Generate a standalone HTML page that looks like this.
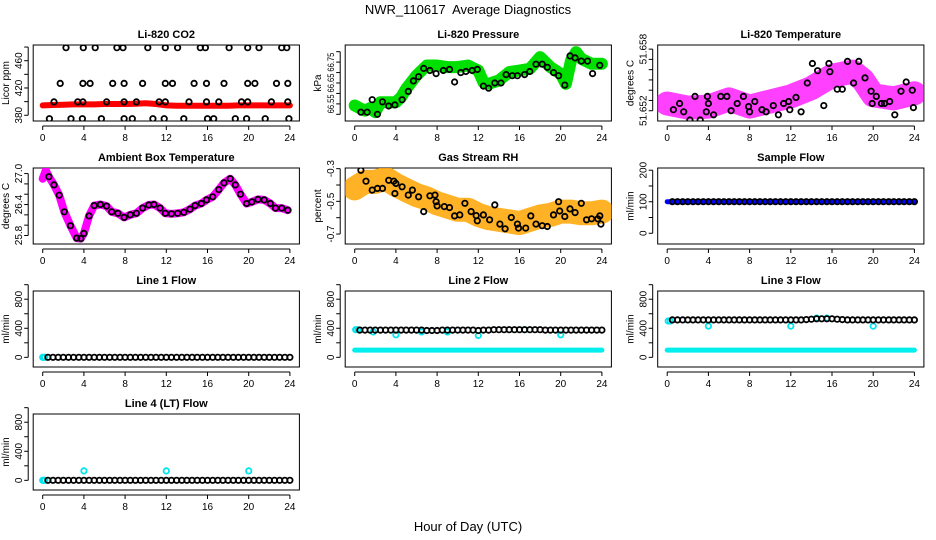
<!DOCTYPE html>
<html><head><meta charset="utf-8">
<style>
html,body{margin:0;padding:0;background:#fff;}
svg{display:block;font-family:"Liberation Sans",sans-serif;}
</style></head>
<body>
<svg id="chart" width="936" height="540" viewBox="0 0 936 540" xmlns="http://www.w3.org/2000/svg">
<text x="468" y="14" font-size="13" text-anchor="middle" style="white-space:pre">NWR_110617  Average Diagnostics</text>
<text x="468" y="531" font-size="13" text-anchor="middle">Hour of Day (UTC)</text>
</svg>
<script>
// ---------- data ----------
const xTicks = [0,4,8,12,16,20,24];

// CO2
const co2BandHours = [0,1,2,3,4,5,6,7,8,9,10,11,12,13,14,15,16,17,18,19,20,21,22,23,24];
const co2BandVals = [394.5,395,395.5,396,396,396,396.5,396.5,396.5,397,397.5,396.5,394.5,394,394,394,394,394,394,394.5,394.5,394.5,394.5,394.5,394.5];
const co2PtHours = [2.26,3.94,5.1,7.2,7.8,10.2,11.9,13.1,15.3,15.8,18.1,19.9,21.0,23.2,23.7,
  1.7,3.9,4.6,6.8,7.9,9.7,11.9,12.6,14.7,15.9,17.6,19.9,20.6,22.7,23.8,
  1.1,3.4,3.9,6.2,7.9,9.1,11.3,11.9,14.2,15.9,17.1,19.3,19.9,22.2,23.8,
  0.65,2.75,3.85,5.7,7.9,8.7,10.7,11.8,13.7,16.0,16.6,18.7,19.8,21.6,23.9];
const co2PtVals = [479,479,479,479,479,479,479,479,479,479,479,479,479,479,479,
  426.7,426.7,426.7,426.7,426.7,426.7,426.7,426.7,426.7,426.7,426.7,426.7,426.7,426.7,426.7,
  399.6,399.6,399.6,399.6,399.6,399.6,399.6,399.6,399.6,399.6,399.6,399.6,399.6,399.6,399.6,
  375,375,375,375,375,375,375,375,375,375,375,375,375,375,375];

// Pressure
const presHours = [0,0.5,1,1.5,2,2.5,3,4,4.5,5,6,7,8,9,10,11,12,12.5,13,14,15,16,17,18,19,20,20.5,21,21.5,22,23,24];
const presVals = [66.542,66.53,66.518,66.53,66.51,66.558,66.558,66.558,66.582,66.622,66.686,66.734,66.734,66.726,66.726,66.734,66.71,66.654,66.646,66.662,66.702,66.71,66.718,66.774,66.726,66.694,66.646,66.758,66.798,66.766,66.742,66.742];
const presPtHours = [0.6,1.2,1.7,2.2,2.7,3.3,3.9,4.6,5.2,5.7,6.2,6.7,7.3,7.9,8.6,9.2,9.7,10.3,10.8,11.4,11.9,12.5,13.0,13.6,14.2,14.7,15.3,15.8,16.5,17.0,17.6,18.2,18.7,19.3,19.8,20.4,20.9,21.4,22.0,22.6,23.1,23.8];
const presPtVals = [66.51,66.51,66.57,66.5,66.56,66.54,66.545,66.57,66.61,66.66,66.68,66.72,66.71,66.695,66.71,66.715,66.655,66.7,66.705,66.71,66.715,66.635,66.625,66.65,66.65,66.69,66.685,66.685,66.69,66.705,66.74,66.74,66.725,66.7,66.685,66.64,66.78,66.77,66.755,66.755,66.695,66.735];

// Li-820 Temperature
const tempBandHours = [0,2,4,6,8,10,12,14,16,18,19,20,22,24];
const tempBandVals = [51.6527,51.6523,51.6524,51.6531,51.6524,51.6529,51.6534,51.6542,51.6554,51.6558,51.655,51.6535,51.6532,51.6537];
const tempPtHours = [0.6,1.2,1.6,2.2,2.7,3.2,3.8,3.9,4,4.5,5.2,5.8,6.2,6.8,7.4,7.9,8,8.5,9.2,9.6,10.3,10.8,11.3,11.8,11.9,12.5,13,13.6,14.1,14.6,15.2,15.7,15.8,16.5,17,17.5,18.1,18.6,19.2,19.8,19.9,20.3,20.8,21.1,21.6,22.1,22.7,23.2,23.8,23.9];
const tempPtVals = [51.6521,51.6527,51.6519,51.6511,51.6534,51.6511,51.6519,51.6534,51.6527,51.6516,51.6534,51.6534,51.652,51.6527,51.6534,51.6524,51.6519,51.6529,51.6521,51.6519,51.6525,51.6516,51.6527,51.6529,51.6521,51.6533,51.6519,51.6547,51.6566,51.6559,51.6525,51.6566,51.6558,51.6541,51.6541,51.6568,51.6547,51.6568,51.6552,51.6539,51.6527,51.6534,51.6527,51.6527,51.6529,51.6516,51.6539,51.6548,51.654,51.6523];

// Ambient Box Temperature
const ambHours = [0,0.3,0.6,1.1,1.6,2.1,2.7,3.3,3.7,4,4.5,5,5.6,6.2,6.7,7.3,7.9,8.5,9.1,9.7,10.3,10.8,11.4,11.9,12.5,13.1,13.7,14.3,14.8,15.4,15.9,16.5,17.1,17.6,18.2,18.7,19.2,19.8,20.3,20.9,21.5,22.1,22.6,23.2,23.8];
const ambVals = [26.90,27.06,26.94,26.78,26.58,26.26,25.99,25.75,25.74,25.84,26.18,26.38,26.40,26.37,26.26,26.23,26.15,26.20,26.23,26.33,26.39,26.40,26.33,26.23,26.22,26.23,26.25,26.31,26.38,26.42,26.49,26.55,26.69,26.82,26.90,26.78,26.60,26.42,26.45,26.50,26.49,26.42,26.33,26.33,26.29];

// Gas Stream RH
const rhBandHours = [0,1,2,3,4,5,6,7,8,9,10,11,12,13,14,15,16,17,18,19,20,21,22,23,24];
const rhBandVals = [-0.421,-0.381,-0.381,-0.36,-0.40,-0.431,-0.462,-0.482,-0.512,-0.532,-0.552,-0.552,-0.583,-0.603,-0.613,-0.623,-0.633,-0.613,-0.593,-0.583,-0.563,-0.563,-0.573,-0.573,-0.563];
const rhPtHours = [0.6,1.1,1.7,2.2,2.7,3.3,3.8,3.9,4,4.6,5.2,5.6,6.2,6.7,7.3,7.8,7.9,8,8.7,9.2,9.7,10.2,10.7,11.3,11.8,11.9,12.5,13.1,13.6,14.1,14.6,15.2,15.8,15.9,16.6,17.1,17.6,18.2,18.7,19.3,19.8,19.9,20.4,20.9,21.4,22.0,22.5,23.0,23.6,23.8,23.9];
const rhPtVals = [-0.310,-0.377,-0.431,-0.421,-0.421,-0.371,-0.377,-0.452,-0.391,-0.411,-0.462,-0.431,-0.472,-0.563,-0.466,-0.462,-0.502,-0.528,-0.532,-0.538,-0.589,-0.583,-0.512,-0.563,-0.587,-0.619,-0.583,-0.613,-0.522,-0.639,-0.668,-0.599,-0.639,-0.664,-0.664,-0.589,-0.639,-0.649,-0.654,-0.583,-0.502,-0.559,-0.593,-0.546,-0.569,-0.512,-0.613,-0.607,-0.607,-0.589,-0.639];

// Flows (shared hour grid for circle markers)
const flowHours = [0.5,1,1.5,2,2.5,3,3.5,4,4.5,5,5.5,6,6.5,7,7.5,8,8.5,9,9.5,10,10.5,11,11.5,12,12.5,13,13.5,14,14.5,15,15.5,16,16.5,17,17.5,18,18.5,19,19.5,20,20.5,21,21.5,22,22.5,23,23.5,24];
const sampleBandHours = [0,24];
const sampleBandVals = [100,100];
const sampleVals = [100,100,100,100,100,100,100,100,100,100,100,100,100,100,100,100,100,100,100,100,100,100,100,100,100,100,100,100,100,100,100,100,100,100,100,100,100,100,100,100,100,100,100,100,100,100,100,100];
const line1Vals = [0,0,0,0,0,0,0,0,0,0,0,0,0,0,0,0,0,0,0,0,0,0,0,0,0,0,0,0,0,0,0,0,0,0,0,0,0,0,0,0,0,0,0,0,0,0,0,0];
const line1CyanHours = [0,0.1,0.2];
const line1CyanVals = [0,0,0];
const line2Vals = [375,375,375,375,375,375,375,375,375,375,375,375,375,370,370,370,375,375,375,375,375,375,375,370,375,375,380,380,380,380,380,380,380,380,380,380,375,375,375,375,375,375,375,375,375,375,375,375];
const line2BandHours = [0,24];
const line2BandVals = [100,100];
const line2CyanHours = [0.1,0.3,1.8,4,6.5,9,12,16.5,20];
const line2CyanVals = [380,380,350,310,350,350,300,380,310];
const line3Vals = [515,515,515,515,515,515,515,515,515,515,515,515,515,515,515,515,515,515,515,515,515,515,515,515,515,515,520,525,530,530,530,530,525,520,515,515,515,515,515,515,515,515,515,515,515,515,515,515];
const line3BandHours = [0,24];
const line3BandVals = [100,100];
const line3CyanHours = [0.1,0.3,4,12,14.5,15.5,20];
const line3CyanVals = [500,500,430,430,540,540,430];
const line4Vals = [0,0,0,0,0,0,0,0,0,0,0,0,0,0,0,0,0,0,0,0,0,0,0,0,0,0,0,0,0,0,0,0,0,0,0,0,0,0,0,0,0,0,0,0,0,0,0,0];
const line4CyanHours = [0,0.1,0.2,4,12,20];
const line4CyanVals = [0,0,0,130,130,130];

// ---------- drawing ----------
const NS = 'http://www.w3.org/2000/svg';
const svg = document.getElementById('chart');
function mk(tag, attrs, parent){
  const e = document.createElementNS(NS, tag);
  for (const k in attrs) e.setAttribute(k, attrs[k]);
  (parent||svg).appendChild(e);
  return e;
}
const colX0 = [42.7, 354.7, 667.2];
const PXH = 10.3;
const rowTop = [45, 168, 291, 414];
const rowBot = [121, 244, 367, 490];
let clipId = 0;

function panel(p){
  const g = mk('g', {});
  
  
  const x0 = colX0[p.col];
  const bl = x0 - 9.5, br = x0 + 24*PXH + 9.5;
  const bt = rowTop[p.row], bb = rowBot[p.row];
  const xs = h => x0 + h*PXH;
  const ys = v => bb - (v - p.ymin)/(p.ymax - p.ymin)*(bb - bt);
  const id = 'clip' + (clipId++);
  const cp = mk('clipPath', {id:id}, g);
  mk('rect', {x:bl, y:bt, width:br-bl, height:bb-bt}, cp);
  const t = mk('text', {x:(bl+br)/2, y:bt-7, 'font-size':11, 'font-weight':'bold', 'text-anchor':'middle'}, g);
  t.textContent = p.title;
  
  
  const yl = mk('text', {x:0, y:0, 'font-size':10, 'text-anchor':'middle', transform:`translate(${bl-24},${(bt+bb)/2}) rotate(-90)`}, g);
  yl.textContent = p.ylab;
  
  
  const box = mk('rect', {x:bl, y:bt, width:br-bl, height:bb-bt, fill:'none', stroke:'#000', 'stroke-width':1}, g);
  
  
  const plot = mk('g', {'clip-path':`url(#${id})`}, g);
  p.layers.forEach(L => {
    if (L.type === 'band'){
      const pts = L.h.map((h,i)=> xs(h).toFixed(1)+','+ys(L.v[i]).toFixed(1)).join(' ');
      const pl = mk('polyline', {points:pts, fill:'none', stroke:L.color, 'stroke-width':L.w, 'stroke-linejoin':'round', 'stroke-linecap':'round', opacity:L.op||1}, plot);
      
      
    } else {
      L.h.forEach((h,i)=>{
        const c = mk('circle', {cx:xs(h).toFixed(1), cy:ys(L.v[i]).toFixed(1), r:L.r||2.7, fill:'none', stroke:L.color, 'stroke-width':L.sw||1.8}, plot);
        
        
      });
    }
  });
  // x axis
  mk('line', {x1:xs(0), x2:xs(24), y1:bb+5, y2:bb+5, stroke:'#000'}, g);
  xTicks.forEach(h=>{
    mk('line', {x1:xs(h), x2:xs(h), y1:bb+5, y2:bb+9, stroke:'#000'}, g);
    const tx = mk('text', {x:xs(h), y:bb+20, 'font-size':10, 'text-anchor':'middle'}, g);
    tx.textContent = h;
    
    
  });
  // y axis
  const yt0 = ys(p.ticks[0]), yt1 = ys(p.ticks[p.ticks.length-1]);
  mk('line', {x1:bl-5, x2:bl-5, y1:yt0, y2:yt1, stroke:'#000'}, g);
  p.ticks.forEach(v=>{
    mk('line', {x1:bl-5, x2:bl-9, y1:ys(v), y2:ys(v), stroke:'#000'}, g);
  });
  const lfs = p.labelFont || 10;
  p.labels.forEach(v=>{
    const ty = mk('text', {x:0, y:0, 'font-size':lfs, 'text-anchor':'middle', transform:`translate(${bl-11},${ys(v)}) rotate(-90)`}, g);
    if (p.labelLen) ty.setAttribute('textLength', p.labelLen);
    if (p.labelLen) ty.setAttribute('lengthAdjust', 'spacingAndGlyphs');
    ty.textContent = String(v);
    
    
  });
}

const flowTicks = [0,200,400,600,800,1000];
const flowLabels = [0,400,800];

panel({name:'panel-co2', col:0,row:0,title:'Li-820 CO2',ylab:'Licor ppm',ymin:371.6,ymax:483,
  ticks:[380,400,420,440,460,480], labels:[380,420,460],
  layers:[{type:'band',name:'co2-band',h:co2BandHours,v:co2BandVals,color:'#ff0000',w:6},
          {type:'pts',name:'co2-point',h:co2PtHours,v:co2PtVals,color:'#000'}]});
panel({name:'panel-pressure', col:1,row:0,title:'Li-820 Pressure',ylab:'kPa',ymin:66.468,ymax:66.832,
  ticks:[66.5,66.55,66.6,66.65,66.7,66.75,66.8], labels:['66.55','66.65','66.75'], labelFont:9, labelLen:19,
  layers:[{type:'band',name:'pressure-band',h:presHours,v:presVals,color:'#00e000',w:12},
          {type:'pts',name:'pressure-point',h:presPtHours,v:presPtVals,color:'#000'}]});
panel({name:'panel-li820-temp', col:2,row:0,title:'Li-820 Temperature',ylab:'degrees C',ymin:51.6510,ymax:51.6584,
  ticks:[51.652,51.653,51.654,51.655,51.656,51.657,51.658], labels:['51.652','51.658'],
  layers:[{type:'band',name:'li820-temp-band',h:tempBandHours,v:tempBandVals,color:'#ff00ff',w:24,op:0.75},
          {type:'pts',name:'li820-temp-point',h:tempPtHours,v:tempPtVals,color:'#000'}]});
panel({name:'panel-ambient-temp', col:0,row:1,title:'Ambient Box Temperature',ylab:'degrees C',ymin:25.635,ymax:27.108,
  ticks:[25.8,26.0,26.2,26.4,26.6,26.8,27.0], labels:['25.8','26.4','27.0'],
  layers:[{type:'band',name:'ambient-temp-band',h:ambHours,v:ambVals,color:'#ff00ff',w:8},
          {type:'pts',name:'ambient-temp-point',h:ambHours.slice(2),v:ambVals.slice(2),color:'#000'}]});
panel({name:'panel-rh', col:1,row:1,title:'Gas Stream RH',ylab:'percent',ymin:-0.761,ymax:-0.296,
  ticks:[-0.7,-0.6,-0.5,-0.4,-0.3], labels:['-0.7','-0.5','-0.3'],
  layers:[{type:'band',name:'rh-band',h:rhBandHours,v:rhBandVals,color:'#ffa500',w:24,op:0.85},
          {type:'pts',name:'rh-point',h:rhPtHours,v:rhPtVals,color:'#000'}]});
panel({name:'panel-sample-flow', col:2,row:1,title:'Sample Flow',ylab:'ml/min',ymin:-34,ymax:207,
  ticks:[0,50,100,150,200], labels:[0,100,200],
  layers:[{type:'band',name:'sample-flow-band',h:sampleBandHours,v:sampleBandVals,color:'#0000ff',w:5},
          {type:'pts',name:'sample-flow-point',h:flowHours,v:sampleVals,color:'#000'}]});
panel({name:'panel-line1-flow', col:0,row:2,title:'Line 1 Flow',ylab:'ml/min',ymin:-133,ymax:913,
  ticks:flowTicks, labels:flowLabels,
  layers:[{type:'pts',name:'line1-cyan-point',h:line1CyanHours,v:line1CyanVals,color:'#00e5ee'},
          {type:'pts',name:'line1-point',h:flowHours,v:line1Vals,color:'#000'}]});
panel({name:'panel-line2-flow', col:1,row:2,title:'Line 2 Flow',ylab:'ml/min',ymin:-133,ymax:913,
  ticks:flowTicks, labels:flowLabels,
  layers:[{type:'band',name:'line2-band',h:line2BandHours,v:line2BandVals,color:'#00eeee',w:5},
          {type:'pts',name:'line2-cyan-point',h:line2CyanHours,v:line2CyanVals,color:'#00e5ee'},
          {type:'pts',name:'line2-point',h:flowHours,v:line2Vals,color:'#000'}]});
panel({name:'panel-line3-flow', col:2,row:2,title:'Line 3 Flow',ylab:'ml/min',ymin:-133,ymax:913,
  ticks:flowTicks, labels:flowLabels,
  layers:[{type:'band',name:'line3-band',h:line3BandHours,v:line3BandVals,color:'#00eeee',w:5},
          {type:'pts',name:'line3-cyan-point',h:line3CyanHours,v:line3CyanVals,color:'#00e5ee'},
          {type:'pts',name:'line3-point',h:flowHours,v:line3Vals,color:'#000'}]});
panel({name:'panel-line4-flow', col:0,row:3,title:'Line 4 (LT) Flow',ylab:'ml/min',ymin:-133,ymax:913,
  ticks:flowTicks, labels:flowLabels,
  layers:[{type:'pts',name:'line4-cyan-point',h:line4CyanHours,v:line4CyanVals,color:'#00e5ee'},
          {type:'pts',name:'line4-point',h:flowHours,v:line4Vals,color:'#000'}]});
</script>
</body></html>
